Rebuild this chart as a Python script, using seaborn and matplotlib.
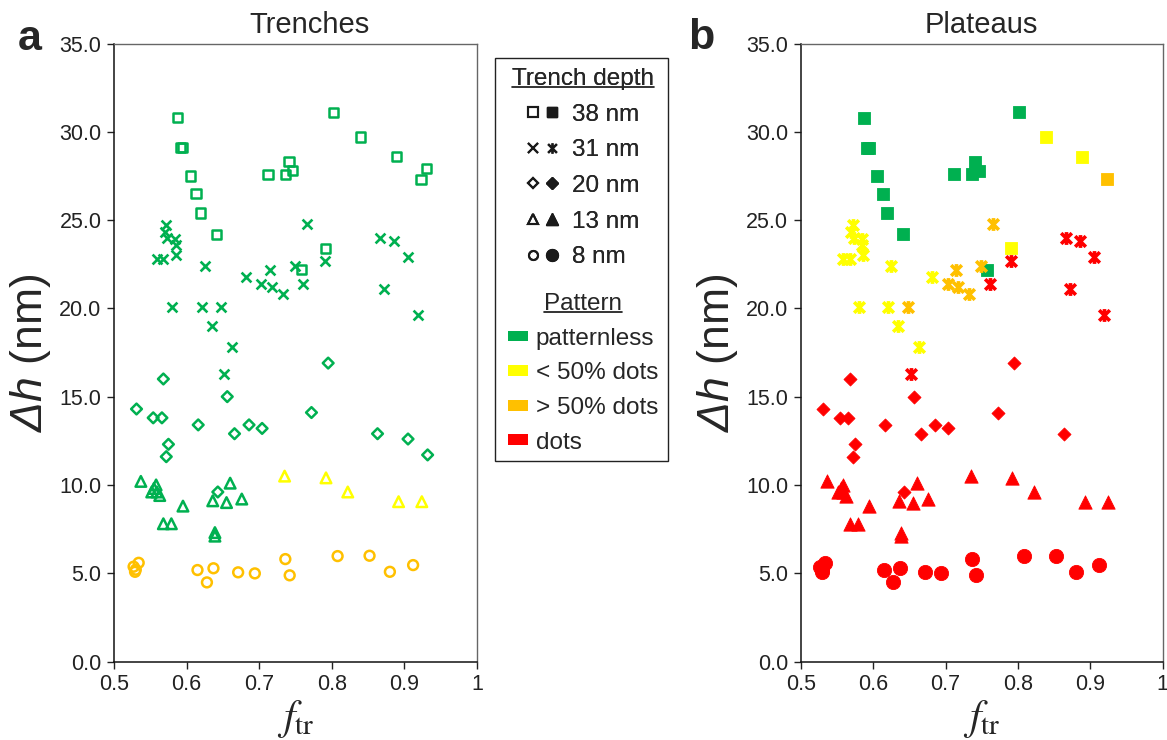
import numpy as np
import pandas as pd
import matplotlib
matplotlib.use('Agg')
import matplotlib.pyplot as plt
import seaborn as sns
from matplotlib.lines import Line2D
from matplotlib.patches import Patch, Rectangle
from matplotlib.path import Path
from matplotlib.legend_handler import HandlerTuple

# values
# f_tr, delta h (nm), pattern on trenches (panel a) and on plateaus (panel b)
# G = patternless, Y = < 50% dots, O = > 50% dots, R = dots, - = not shown
sq_f = [0.588, 0.592, 0.594, 0.605, 0.613, 0.619, 0.641, 0.802, 0.839, 0.889,
        0.930, 0.923, 0.712, 0.736, 0.741, 0.746, 0.791, 0.758]
sq_dh = [30.8, 29.1, 29.1, 27.5, 26.5, 25.4, 24.2, 31.1, 29.7, 28.6,
         27.9, 27.3, 27.6, 27.6, 28.3, 27.8, 23.4, 22.2]
sq_trench = list('GGGGGGGGGGGGGGGGGG')
sq_plateau = list('GGGGGGGGYY-OGGGGYG')

x_f = [0.572, 0.570, 0.573, 0.584, 0.585, 0.559, 0.568, 0.586, 0.625, 0.682,
       0.715, 0.703, 0.717, 0.733, 0.749, 0.761, 0.766, 0.791, 0.867, 0.886,
       0.905, 0.872, 0.580, 0.621, 0.648, 0.635, 0.663, 0.652, 0.919]
x_dh = [24.7, 24.3, 24.0, 23.9, 23.6, 22.8, 22.8, 23.0, 22.4, 21.8,
        22.2, 21.4, 21.2, 20.8, 22.4, 21.4, 24.8, 22.7, 24.0, 23.8,
        22.9, 21.1, 20.1, 20.1, 20.1, 19.0, 17.8, 16.3, 19.6]
x_trench = list('GGGGGGGGGGGGGGGGGGGGGGGGGGGGG')
x_plateau = list('YYYYYYYYYYOOOOORORRRRRYYOYYRR')

dm_f = [0.568, 0.531, 0.554, 0.566, 0.575, 0.572, 0.616, 0.656, 0.666, 0.686,
        0.704, 0.772, 0.795, 0.863, 0.905, 0.932, 0.643]
dm_dh = [16.0, 14.3, 13.8, 13.8, 12.3, 11.6, 13.4, 15.0, 12.9, 13.4,
         13.2, 14.1, 16.9, 12.9, 12.6, 11.7, 9.6]
dm_trench = list('GGGGGGGGGGGGGGGGG')
dm_plateau = list('RRRRRRRRRRRRRR--R')

tri_f = [0.537, 0.558, 0.552, 0.559, 0.563, 0.555, 0.595, 0.568, 0.579, 0.636,
         0.660, 0.655, 0.676, 0.639, 0.639, 0.735, 0.792, 0.822, 0.892, 0.924]
tri_dh = [10.2, 10.0, 9.6, 9.6, 9.4, 9.8, 8.8, 7.8, 7.8, 9.1,
          10.1, 9.0, 9.2, 7.3, 7.1, 10.5, 10.4, 9.6, 9.05, 9.05]
tri_trench = list('GGGGGGGGGGGGGGGYYYYY')
tri_plateau = list('RRRRRRRRRRRRRRRRRRRR')

ci_f = [0.527, 0.534, 0.529, 0.530, 0.615, 0.637, 0.628, 0.671, 0.694, 0.736,
        0.742, 0.808, 0.852, 0.880, 0.912]
ci_dh = [5.37, 5.59, 5.08, 5.2, 5.18, 5.28, 4.48, 5.05, 4.99, 5.80,
         4.88, 5.97, 5.99, 5.08, 5.46]
ci_trench = list('OOOOOOOOOOOOOOO')
ci_plateau = list('RRRRRRRRRRRRRRR')

depths = ['38 nm', '31 nm', '20 nm', '13 nm', '8 nm']
pattern_codes = ['G', 'Y', 'O', 'R']
pattern_names = ['patternless', '< 50% dots', '> 50% dots', 'dots']
pattern_colors = ['#00B050', '#FFFF00', '#FFC000', '#FF0000']
xtick_vals = [0.5, 0.6, 0.7, 0.8, 0.9, 1.0]
xtick_labels = ['0.5', '0.6', '0.7', '0.8', '0.9', '1']
ytick_vals = [0, 5, 10, 15, 20, 25, 30, 35]

groups = [(sq_f, sq_dh, sq_trench, sq_plateau), (x_f, x_dh, x_trench, x_plateau),
          (dm_f, dm_dh, dm_trench, dm_plateau), (tri_f, tri_dh, tri_trench, tri_plateau),
          (ci_f, ci_dh, ci_trench, ci_plateau)]
frames = []
for depth, (f, dh, tr, pl) in zip(depths, groups):
    frames.append(pd.DataFrame({'f': f, 'dh': dh, 'trench': tr, 'plateau': pl, 'depth': depth}))
df = pd.concat(frames, ignore_index=True)

sns.set_theme(style='ticks')
plt.rcParams['font.family'] = ['Liberation Sans', 'DejaVu Sans']
plt.rcParams['mathtext.rm'] = 'Liberation Sans'
plt.rcParams['mathtext.it'] = 'Liberation Sans:italic'

# excel style "star": x with a vertical bar
star = Path([(-1, -1), (1, 1), (-1, 1), (1, -1), (0, -1.2), (0, 1.2)],
            [Path.MOVETO, Path.LINETO] * 3)

open_style = {'38 nm': ('s', 44), '31 nm': ('x', 50), '20 nm': ('D', 30),
              '13 nm': ('^', 58), '8 nm': ('o', 50)}
fill_style = {'38 nm': ('s', 72), '31 nm': (star, 85), '20 nm': ('D', 44),
              '13 nm': ('^', 92), '8 nm': ('o', 105)}

fig = plt.figure(figsize=(11.67, 7.40), dpi=100)
ax_a = fig.add_axes([114 / 1167, 1 - 661.5 / 740, 363 / 1167, 618 / 740])
ax_b = fig.add_axes([800.7 / 1167, 1 - 661.5 / 740, 362 / 1167, 618 / 740])


def draw(ax, col, styles, filled):
    for depth in depths:
        m, s = styles[depth]
        for code, color in zip(pattern_codes, pattern_colors):
            sub = df[(df.depth == depth) & (df[col] == code)]
            if sub.empty:
                continue
            if filled:
                lw = 2.6 if depth == '31 nm' else 0.6
                sns.scatterplot(data=sub, x='f', y='dh', marker=m, s=s, color=color,
                                edgecolor=color, linewidth=lw, ax=ax, legend=False, zorder=3)
            elif depth == '31 nm':
                sns.scatterplot(data=sub, x='f', y='dh', marker=m, s=s, color=color,
                                linewidth=1.9, ax=ax, legend=False, zorder=3)
            else:
                sns.scatterplot(data=sub, x='f', y='dh', marker=m, s=s, color=color,
                                facecolor='none', edgecolor=color, linewidth=1.8,
                                ax=ax, legend=False, zorder=3)


draw(ax_a, 'trench', open_style, False)
draw(ax_b, 'plateau', fill_style, True)

for ax in (ax_a, ax_b):
    ax.set_xlim(0.5, 1.0)
    ax.set_ylim(0, 35)
    ax.set_xticks(xtick_vals)
    ax.set_xticklabels(xtick_labels)
    ax.set_yticks(ytick_vals)
    ax.set_yticklabels([f'{v:.1f}' for v in ytick_vals])
    ax.tick_params(direction='out', length=5, width=1, labelsize=15.5,
                   colors='#222222', pad=4)
    for side in ['left', 'bottom']:
        ax.spines[side].set_color('#111111')
        ax.spines[side].set_linewidth(1.1)
    for side in ['top', 'right']:
        ax.spines[side].set_visible(True)
        ax.spines[side].set_color('#666666')
        ax.spines[side].set_linewidth(1.0)
    ax.set_xlabel(r'$f_{\mathrm{tr}}$', fontsize=30, math_fontfamily='stix', labelpad=2)
    ax.set_ylabel(r'Δh $\mathrm{(nm)}$', fontsize=32, fontstyle='italic',
                  math_fontfamily='custom')
    ax.yaxis.set_label_coords(-0.168, 0.5)

fig.text(309 / 1167, 1 - 25 / 740, 'Trenches', ha='center', va='center', fontsize=21)
fig.text(981 / 1167, 1 - 25 / 740, 'Plateaus', ha='center', va='center', fontsize=21)
fig.text(18 / 1167, 1 - 50 / 740, 'a', ha='left', va='baseline', fontsize=31, fontweight='bold')
fig.text(688 / 1167, 1 - 49 / 740, 'b', ha='left', va='baseline', fontsize=31, fontweight='bold')

# legend: trench depth (marker shapes) and pattern (colours)
open_handles = [Line2D([], [], ls='none', marker='s', ms=6.5, mfc='none', mec='k', mew=1.5),
                Line2D([], [], ls='none', marker='x', ms=6.5, mec='k', mew=1.5),
                Line2D([], [], ls='none', marker='D', ms=5, mfc='none', mec='k', mew=1.5),
                Line2D([], [], ls='none', marker='^', ms=7, mfc='none', mec='k', mew=1.5),
                Line2D([], [], ls='none', marker='o', ms=6.5, mfc='none', mec='k', mew=1.5)]
fill_handles = [Line2D([], [], ls='none', marker='s', ms=7.5, mfc='k', mec='k'),
                Line2D([], [], ls='none', marker=star, ms=7.5, mfc='k', mec='k', mew=1.6),
                Line2D([], [], ls='none', marker='D', ms=6, mfc='k', mec='k'),
                Line2D([], [], ls='none', marker='^', ms=8.5, mfc='k', mec='k'),
                Line2D([], [], ls='none', marker='o', ms=8.5, mfc='k', mec='k')]
leg1 = fig.legend(handles=list(zip(open_handles, fill_handles)), labels=depths,
                  title='Trench depth', loc='upper center',
                  bbox_to_anchor=(583 / 1167, 1 - 68 / 740), frameon=False,
                  fontsize=17.5, title_fontsize=17.5, labelspacing=0.56,
                  handlelength=1.3, handletextpad=0.55, borderpad=0, borderaxespad=0,
                  handler_map={tuple: HandlerTuple(ndivide=None, pad=0.25)})
color_handles = [Patch(facecolor=c, edgecolor='none') for c in pattern_colors]
leg2 = fig.legend(handles=color_handles, labels=pattern_names, title='Pattern',
                  loc='upper center', bbox_to_anchor=(583 / 1167, 1 - 293 / 740),
                  frameon=False, fontsize=17.5, title_fontsize=17.5, labelspacing=0.52,
                  handlelength=0.85, handleheight=0.3, handletextpad=0.3,
                  borderpad=0, borderaxespad=0)
fig.add_artist(leg1)

fig.add_artist(Rectangle((495 / 1167, 1 - 461 / 740), 173 / 1167, 403 / 740,
                         transform=fig.transFigure, fill=False, ec='#222222', lw=1.0))

# underline the two legend titles
fig.canvas.draw()
inv = fig.transFigure.inverted()
for leg in (leg1, leg2):
    bb = leg.get_title().get_window_extent()
    (x0, y0), (x1, _) = inv.transform([(bb.x0, bb.y0 + 3), (bb.x1, bb.y0 + 3)])
    fig.add_artist(Line2D([x0, x1], [y0, y0], transform=fig.transFigure,
                          color='#111111', lw=1.2))

fig.savefig('out.png', dpi=100)
